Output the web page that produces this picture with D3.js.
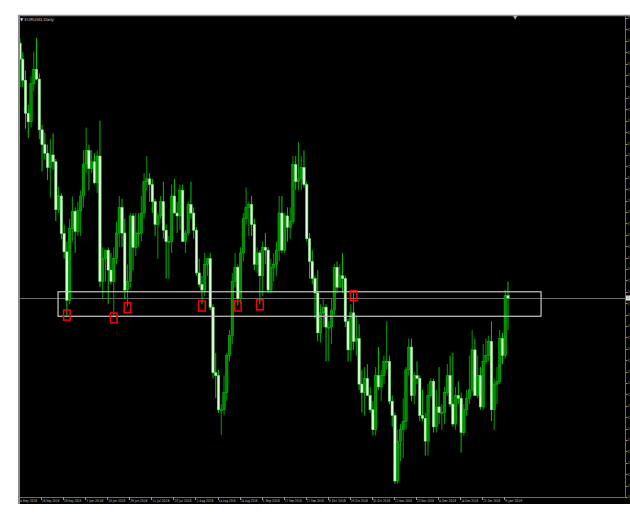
<!DOCTYPE html>
<html><head><meta charset="utf-8">
<script src="https://cdn.jsdelivr.net/npm/d3@7"></script>
<style>html,body{margin:0;padding:0;background:#fff;overflow:hidden}</style>
</head><body>
<svg id="c" width="630" height="516"></svg>
<script>
const symbolLabel = "EURUSD,Daily";
const dates = ["2018-05-04","2018-05-07","2018-05-08","2018-05-09","2018-05-10","2018-05-11","2018-05-14","2018-05-15","2018-05-16","2018-05-17","2018-05-18","2018-05-21","2018-05-22","2018-05-23","2018-05-24","2018-05-25","2018-05-28","2018-05-29","2018-05-30","2018-05-31","2018-06-01","2018-06-04","2018-06-05","2018-06-06","2018-06-07","2018-06-08","2018-06-11","2018-06-12","2018-06-13","2018-06-14","2018-06-15","2018-06-18","2018-06-19","2018-06-20","2018-06-21","2018-06-22","2018-06-25","2018-06-26","2018-06-27","2018-06-28","2018-06-29","2018-07-02","2018-07-03","2018-07-04","2018-07-05","2018-07-06","2018-07-09","2018-07-10","2018-07-11","2018-07-12","2018-07-13","2018-07-16","2018-07-17","2018-07-18","2018-07-19","2018-07-20","2018-07-23","2018-07-24","2018-07-25","2018-07-26","2018-07-27","2018-07-30","2018-07-31","2018-08-01","2018-08-02","2018-08-03","2018-08-06","2018-08-07","2018-08-08","2018-08-09","2018-08-10","2018-08-13","2018-08-14","2018-08-15","2018-08-16","2018-08-17","2018-08-20","2018-08-21","2018-08-22","2018-08-23","2018-08-24","2018-08-27","2018-08-28","2018-08-29","2018-08-30","2018-08-31","2018-09-03","2018-09-04","2018-09-05","2018-09-06","2018-09-07","2018-09-10","2018-09-11","2018-09-12","2018-09-13","2018-09-14","2018-09-17","2018-09-18","2018-09-19","2018-09-20","2018-09-21","2018-09-24","2018-09-25","2018-09-26","2018-09-27","2018-09-28","2018-10-01","2018-10-02","2018-10-03","2018-10-04","2018-10-05","2018-10-08","2018-10-09","2018-10-10","2018-10-11","2018-10-12","2018-10-15","2018-10-16","2018-10-17","2018-10-18","2018-10-19","2018-10-22","2018-10-23","2018-10-24","2018-10-25","2018-10-26","2018-10-29","2018-10-30","2018-10-31","2018-11-01","2018-11-02","2018-11-05","2018-11-06","2018-11-07","2018-11-08","2018-11-09","2018-11-12","2018-11-13","2018-11-14","2018-11-15","2018-11-16","2018-11-19","2018-11-20","2018-11-21","2018-11-22","2018-11-23","2018-11-26","2018-11-27","2018-11-28","2018-11-29","2018-11-30","2018-12-03","2018-12-04","2018-12-05","2018-12-06","2018-12-07","2018-12-10","2018-12-11","2018-12-12","2018-12-13","2018-12-14","2018-12-17","2018-12-18","2018-12-19","2018-12-20","2018-12-21","2018-12-24","2018-12-26","2018-12-27","2018-12-28","2018-12-31","2019-01-02","2019-01-03","2019-01-04","2019-01-07","2019-01-08","2019-01-09","2019-01-10"];
const open  = [1.1988,1.1960,1.1923,1.1865,1.1850,1.1917,1.1942,1.1925,1.1836,1.1810,1.1795,1.1770,1.1792,1.1780,1.1696,1.1720,1.1654,1.1622,1.1537,1.1663,1.1693,1.1658,1.1694,1.1720,1.1776,1.1800,1.1768,1.1780,1.1743,1.1790,1.1570,1.1610,1.1625,1.1590,1.1570,1.1610,1.1655,1.1700,1.1655,1.1555,1.1570,1.1685,1.1630,1.1655,1.1655,1.1690,1.1745,1.1750,1.1740,1.1710,1.1670,1.1685,1.1710,1.1660,1.1640,1.1640,1.1720,1.1690,1.1685,1.1730,1.1640,1.1655,1.1705,1.1690,1.1660,1.1585,1.1565,1.1555,1.1600,1.1610,1.1525,1.1410,1.1405,1.1345,1.1345,1.1375,1.1440,1.1475,1.1570,1.1595,1.1540,1.1620,1.1680,1.1700,1.1705,1.1670,1.1600,1.1620,1.1580,1.1630,1.1625,1.1555,1.1595,1.1600,1.1625,1.1690,1.1625,1.1685,1.1665,1.1675,1.1775,1.1745,1.1750,1.1770,1.1740,1.1645,1.1605,1.1575,1.1550,1.1480,1.1515,1.1525,1.1490,1.1490,1.1520,1.1595,1.1560,1.1580,1.1575,1.1500,1.1450,1.1515,1.1465,1.1470,1.1390,1.1375,1.1400,1.1370,1.1345,1.1310,1.1405,1.1385,1.1405,1.1430,1.1430,1.1360,1.1335,1.1220,1.1290,1.1310,1.1325,1.1415,1.1455,1.1370,1.1405,1.1400,1.1335,1.1330,1.1290,1.1370,1.1395,1.1315,1.1350,1.1340,1.1340,1.1375,1.1405,1.1355,1.1320,1.1370,1.1365,1.1305,1.1345,1.1365,1.1380,1.1450,1.1370,1.1405,1.1350,1.1430,1.1440,1.1465,1.1345,1.1390,1.1395,1.1470,1.1440,1.1545];
const high  = [1.1996,1.1972,1.1940,1.1880,1.1930,1.1973,1.1997,1.1935,1.1845,1.1831,1.1810,1.1820,1.1830,1.1785,1.1736,1.1725,1.1670,1.1640,1.1680,1.1719,1.1700,1.1710,1.1730,1.1800,1.1840,1.1810,1.1800,1.1795,1.1800,1.1852,1.1630,1.1626,1.1630,1.1620,1.1630,1.1675,1.1720,1.1715,1.1680,1.1600,1.1690,1.1690,1.1690,1.1690,1.1720,1.1760,1.1790,1.1760,1.1750,1.1715,1.1690,1.1720,1.1745,1.1670,1.1650,1.1740,1.1750,1.1710,1.1740,1.1740,1.1660,1.1710,1.1745,1.1700,1.1665,1.1610,1.1580,1.1620,1.1610,1.1620,1.1530,1.1445,1.1415,1.1355,1.1405,1.1445,1.1485,1.1585,1.1620,1.1600,1.1630,1.1690,1.1735,1.1710,1.1720,1.1680,1.1630,1.1625,1.1640,1.1655,1.1630,1.1610,1.1620,1.1640,1.1720,1.1720,1.1690,1.1700,1.1700,1.1790,1.1790,1.1815,1.1790,1.1800,1.1745,1.1655,1.1625,1.1580,1.1590,1.1530,1.1540,1.1530,1.1500,1.1540,1.1600,1.1605,1.1600,1.1620,1.1580,1.1505,1.1530,1.1550,1.1510,1.1495,1.1415,1.1420,1.1425,1.1385,1.1360,1.1420,1.1455,1.1415,1.1440,1.1500,1.1440,1.1370,1.1340,1.1310,1.1320,1.1365,1.1420,1.1470,1.1470,1.1410,1.1430,1.1405,1.1380,1.1340,1.1390,1.1400,1.1400,1.1380,1.1420,1.1355,1.1385,1.1425,1.1440,1.1445,1.1385,1.1395,1.1375,1.1355,1.1380,1.1440,1.1485,1.1470,1.1440,1.1420,1.1460,1.1470,1.1475,1.1500,1.1400,1.1420,1.1485,1.1480,1.1555,1.1570];
const low   = [1.1911,1.1911,1.1838,1.1822,1.1840,1.1903,1.1923,1.1820,1.1763,1.1784,1.1748,1.1717,1.1766,1.1676,1.1690,1.1644,1.1610,1.1510,1.1530,1.1640,1.1620,1.1650,1.1650,1.1700,1.1760,1.1730,1.1760,1.1740,1.1725,1.1560,1.1540,1.1570,1.1530,1.1565,1.1508,1.1600,1.1630,1.1630,1.1540,1.1526,1.1560,1.1590,1.1615,1.1630,1.1640,1.1680,1.1730,1.1710,1.1690,1.1650,1.1610,1.1680,1.1645,1.1575,1.1575,1.1620,1.1695,1.1655,1.1660,1.1640,1.1620,1.1650,1.1680,1.1645,1.1580,1.1560,1.1530,1.1545,1.1580,1.1520,1.1400,1.1365,1.1340,1.1301,1.1335,1.1360,1.1430,1.1460,1.1560,1.1528,1.1530,1.1605,1.1670,1.1650,1.1650,1.1590,1.1585,1.1530,1.1545,1.1600,1.1550,1.1550,1.1570,1.1580,1.1605,1.1620,1.1620,1.1640,1.1645,1.1670,1.1730,1.1730,1.1730,1.1735,1.1640,1.1575,1.1565,1.1505,1.1465,1.1463,1.1490,1.1430,1.1430,1.1460,1.1510,1.1550,1.1560,1.1550,1.1490,1.1430,1.1430,1.1450,1.1440,1.1380,1.1340,1.1335,1.1370,1.1340,1.1300,1.1300,1.1380,1.1360,1.1390,1.1415,1.1355,1.1315,1.1215,1.1215,1.1255,1.1260,1.1310,1.1405,1.1360,1.1355,1.1390,1.1325,1.1325,1.1265,1.1265,1.1365,1.1305,1.1305,1.1320,1.1310,1.1320,1.1370,1.1350,1.1315,1.1310,1.1355,1.1270,1.1300,1.1335,1.1355,1.1375,1.1370,1.1365,1.1345,1.1345,1.1425,1.1430,1.1325,1.1310,1.1355,1.1390,1.1425,1.1435,1.1485];
const close = [1.1960,1.1923,1.1865,1.1850,1.1917,1.1942,1.1925,1.1836,1.1810,1.1795,1.1770,1.1792,1.1780,1.1696,1.1720,1.1654,1.1622,1.1537,1.1663,1.1693,1.1658,1.1694,1.1720,1.1776,1.1800,1.1768,1.1780,1.1743,1.1790,1.1570,1.1610,1.1625,1.1590,1.1570,1.1610,1.1655,1.1700,1.1655,1.1555,1.1570,1.1685,1.1630,1.1655,1.1655,1.1690,1.1745,1.1750,1.1740,1.1710,1.1670,1.1685,1.1710,1.1660,1.1640,1.1640,1.1720,1.1690,1.1685,1.1730,1.1640,1.1655,1.1705,1.1690,1.1660,1.1585,1.1565,1.1555,1.1600,1.1610,1.1525,1.1410,1.1405,1.1345,1.1345,1.1375,1.1440,1.1475,1.1570,1.1595,1.1540,1.1620,1.1680,1.1700,1.1705,1.1670,1.1600,1.1620,1.1580,1.1630,1.1625,1.1555,1.1595,1.1600,1.1625,1.1690,1.1625,1.1685,1.1665,1.1675,1.1775,1.1745,1.1750,1.1770,1.1740,1.1645,1.1605,1.1575,1.1550,1.1480,1.1515,1.1525,1.1490,1.1490,1.1520,1.1595,1.1560,1.1580,1.1575,1.1500,1.1450,1.1515,1.1465,1.1470,1.1390,1.1375,1.1400,1.1370,1.1345,1.1310,1.1405,1.1385,1.1405,1.1430,1.1430,1.1360,1.1335,1.1220,1.1290,1.1310,1.1325,1.1415,1.1455,1.1370,1.1405,1.1400,1.1335,1.1330,1.1290,1.1370,1.1395,1.1315,1.1350,1.1340,1.1340,1.1375,1.1405,1.1355,1.1320,1.1370,1.1365,1.1305,1.1345,1.1365,1.1380,1.1450,1.1370,1.1405,1.1350,1.1430,1.1440,1.1465,1.1345,1.1390,1.1395,1.1470,1.1440,1.1545,1.1541];
const dateLabels = ["4 May 2018","16 May 2018","28 May 2018","7 Jun 2018","19 Jun 2018","29 Jun 2018","11 Jul 2018","23 Jul 2018","2 Aug 2018","14 Aug 2018","24 Aug 2018","5 Sep 2018","17 Sep 2018","27 Sep 2018","9 Oct 2018","19 Oct 2018","31 Oct 2018","12 Nov 2018","22 Nov 2018","4 Dec 2018","14 Dec 2018","27 Dec 2018","9 Jan 2019"];
const priceTicks = [1.2032,1.2012,1.1992,1.1972,1.1952,1.1932,1.1912,1.1892,1.1872,1.1852,1.1832,1.1812,1.1792,1.1772,1.1752,1.1732,1.1712,1.1692,1.1672,1.1652,1.1632,1.1612,1.1592,1.1572,1.1552,1.1532,1.1512,1.1492,1.1472,1.1452,1.1432,1.1412,1.1392,1.1372,1.1352,1.1332,1.1312,1.1292,1.1272,1.1252,1.1232,1.1212,1.1192];
// support zone (bar index span, price span) and marked touches (bar index, price)
const zoneBars = [13.8, 189];
const zonePrices = [1.1509, 1.1552];
const markBars = [17, 34, 39, 66, 79, 87, 121];
const markPrices = [1.1511, 1.1506, 1.1524, 1.1527, 1.1527, 1.1529, 1.1545];

const svg = d3.select("#c");
const L = 18, R = 625, T = 15, B = 497;
const n = dates.length;
const x = d3.scaleLinear().domain([0, n - 1]).range([20, 508]);
const y = d3.scaleLinear().domain([1.11920, 1.20339]).range([497, 17]);

svg.append("rect").attr("x", 0).attr("y", 0).attr("width", 630).attr("height", 516).attr("fill", "#fff");
svg.append("rect").attr("x", L).attr("y", T).attr("width", 630 - L).attr("height", 504 - T).attr("fill", "#000");

const plot = svg.append("g");
plot.append("defs").append("clipPath").attr("id", "pc").append("rect")
  .attr("x", L + 1).attr("y", T + 1).attr("width", R - L - 1).attr("height", B - T - 1);
const g = plot.append("g").attr("clip-path", "url(#pc)");

// current price line
const last = close[n - 1];
g.append("line").attr("x1", L).attr("x2", R).attr("y1", Math.round(y(last)) + 0.5).attr("y2", Math.round(y(last)) + 0.5)
  .attr("stroke", "#6c6c6c").attr("stroke-width", 1);

// candles
const idx = d3.range(n);
const cg = g.append("g");
cg.selectAll("line.w").data(idx).join("line").attr("class", "w")
  .attr("x1", i => x(i)).attr("x2", i => x(i))
  .attr("y1", i => y(high[i])).attr("y2", i => y(low[i]))
  .attr("stroke", i => close[i] >= open[i] ? "#00a000" : "#00c800").attr("stroke-width", 1);
cg.selectAll("rect.b").data(idx).join("rect").attr("class", "b")
  .attr("x", i => x(i) - 1.2).attr("width", 2.4)
  .attr("y", i => y(Math.max(open[i], close[i])))
  .attr("height", i => Math.max(1, Math.abs(y(open[i]) - y(close[i]))))
  .attr("fill", i => close[i] >= open[i] ? "#008a00" : "#d8ffd0")
  .attr("stroke", i => close[i] >= open[i] ? "#00d000" : "#70e070").attr("stroke-width", 0.5);

// zone rectangle
g.append("rect").attr("x", x(zoneBars[0])).attr("y", y(zonePrices[1]))
  .attr("width", x(zoneBars[1]) - x(zoneBars[0])).attr("height", y(zonePrices[0]) - y(zonePrices[1]))
  .attr("fill", "none").attr("stroke", "#c8c8c8").attr("stroke-width", 1.2);

// red markers
g.selectAll("rect.m").data(markBars).join("rect").attr("class", "m")
  .attr("x", (d) => x(d) - 3.3).attr("width", 6.6)
  .attr("y", (d, i) => y(markPrices[i]) - 5).attr("height", 10)
  .attr("fill", "none").attr("stroke", "#ff0000").attr("stroke-width", 1.5);

// borders
svg.append("line").attr("x1", L).attr("x2", 630).attr("y1", T + 0.5).attr("y2", T + 0.5).attr("stroke", "#8a8a8a").attr("stroke-width", 1.5);
svg.append("line").attr("x1", L + 1).attr("x2", L + 1).attr("y1", T).attr("y2", 504).attr("stroke", "#8a8a8a").attr("stroke-width", 2);
svg.append("line").attr("x1", R + 0.5).attr("x2", R + 0.5).attr("y1", T).attr("y2", B + 1).attr("stroke", "#6a6a6a").attr("stroke-width", 1);
svg.append("line").attr("x1", L).attr("x2", R + 1).attr("y1", B + 0.5).attr("y2", B + 0.5).attr("stroke", "#6a6a6a").attr("stroke-width", 1);

// price axis (labels compressed into the narrow strip at the right edge)
const ya = svg.append("g");
ya.selectAll("line").data(priceTicks).join("line")
  .attr("x1", R + 1).attr("x2", R + 2.5).attr("y1", d => Math.round(y(d)) + 0.5).attr("y2", d => Math.round(y(d)) + 0.5)
  .attr("stroke", "#9a9a9a");
ya.selectAll("text").data(priceTicks).join("text")
  .attr("transform", d => `translate(${R + 2.4},${y(d) + 1.4}) scale(0.13,1)`)
  .attr("fill", "#c8c8c8")
  .attr("font-family", "DejaVu Sans, sans-serif").attr("font-size", 4)
  .text(d => d.toFixed(5));
// current price label
ya.append("rect").attr("x", R + 1).attr("y", y(last) - 2.5).attr("width", 5).attr("height", 5).attr("fill", "#e8e8e8");
ya.append("text").attr("transform", `translate(${R + 1.6},${y(last) + 1.4}) scale(0.15,1)`)
  .attr("fill", "#000")
  .attr("font-family", "DejaVu Sans, sans-serif").attr("font-size", 4).text(last.toFixed(5));

// date axis
const labIdx = dateLabels.map((d, k) => k * 8);
const xa = svg.append("g");
xa.selectAll("line").data(labIdx).join("line")
  .attr("x1", i => Math.round(x(i)) - 0.5).attr("x2", i => Math.round(x(i)) - 0.5).attr("y1", B).attr("y2", B + 3)
  .attr("stroke", "#9a9a9a");
xa.selectAll("text").data(labIdx).join("text")
  .attr("x", i => x(i)).attr("y", B + 5).attr("fill", "#c8c8c8")
  .attr("font-family", "DejaVu Sans, sans-serif").attr("font-size", 3.6)
  .attr("textLength", d => 17).attr("lengthAdjust", "spacingAndGlyphs")
  .text((i, k) => dateLabels[k]);

// title
svg.append("text").attr("x", 20).attr("y", 20.5).attr("fill", "#d0d0d0")
  .attr("font-family", "DejaVu Sans, sans-serif").attr("font-size", 4.2).text("▼ " + symbolLabel);
// chart shift marker
svg.append("path").attr("d", d3.symbol(d3.symbolTriangle, 10)()).attr("transform", `translate(${x(n - 1 + 2.6)},${T + 2}) rotate(180)`)
  .attr("fill", "#a0b0c8");
</script>
</body></html>
